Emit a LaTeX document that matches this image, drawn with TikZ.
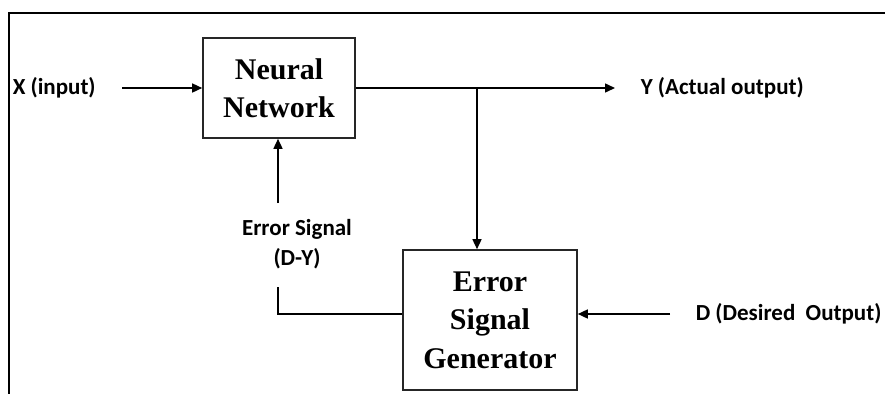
\documentclass[tikz,border=0pt]{standalone}
\usepackage{fontspec}
\setmainfont{Liberation Serif}
\newfontfamily\lblfont{Carlito}
\usetikzlibrary{arrows.meta}

\begin{document}
\begin{tikzpicture}[x=1pt,y=-1pt,
  line width=1.5pt,
  block/.style={draw=black!85, line width=1.6pt, align=center, inner sep=0pt,
    font=\bfseries\fontsize{30}{38.5}\selectfont},
  lbl/.style={inner sep=0pt, align=center, font=\lblfont\bfseries\fontsize{23}{30}\selectfont},
  arr/.style={-{Triangle[length=10pt,width=9pt]}},
  frame/.style={line width=1.8pt}
]
\useasboundingbox (0,0) rectangle (885,394);

% outer frame: top and left edges
\draw[frame] (885,13) -| (9,394);

% blocks
\node[block, minimum width=152pt, minimum height=100pt] (nn) at (279,88) {Neural\\Network};
\node[block, minimum width=174pt, minimum height=140pt] (eg) at (490,320) {Error\\Signal\\Generator};

% labels
\node[lbl, anchor=west] (xlbl) at (12,88) {X (input)};
\node[lbl, anchor=west] (ylbl) at (640,88) {Y (Actual output)};
\node[lbl, anchor=west] (dlbl) at (695,314) {D (Desired\ \ Output)};
\node[lbl] (elbl) at (297,244) {Error Signal\\(D-Y)};

% connector end points
\coordinate (xin) at (122,88);
\coordinate (yout) at (615,88);
\coordinate (br) at (477,88);
\coordinate (din) at (670,314);
\coordinate (fb1) at (278,287);
\coordinate (fb2) at (278,203);

% connectors
\draw[arr] (xin) -- (nn.west);
\draw[arr] (nn.east) -- (yout);
\draw[arr] (br) -- (br |- eg.north);
\draw[arr] (din) -- (eg.east |- din);
\draw (eg.west |- din) -| (fb1);
\draw[arr] (fb2) -- (fb2 |- nn.south);
\end{tikzpicture}
\end{document}
